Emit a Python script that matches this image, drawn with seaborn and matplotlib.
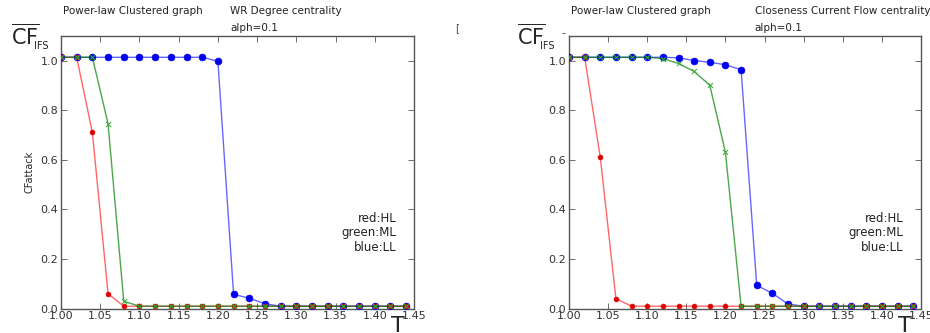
import pandas as pd
import matplotlib.pyplot as plt
import seaborn as sns

sns.set_style("ticks")
plt.rcParams['font.family'] = ['DejaVu Sans']
plt.rcParams['xtick.direction'] = 'in'
plt.rcParams['ytick.direction'] = 'in'
plt.rcParams['xtick.top'] = True
plt.rcParams['ytick.right'] = True

# Data
T = [1.00, 1.02, 1.04, 1.06, 1.08, 1.10, 1.12, 1.14, 1.16, 1.18, 1.20, 1.22,
     1.24, 1.26, 1.28, 1.30, 1.32, 1.34, 1.36, 1.38, 1.40, 1.42, 1.44]

left_red = [1.013, 1.013, 0.71, 0.06, 0.01, 0.01, 0.01, 0.01, 0.01, 0.01, 0.01, 0.01,
            0.01, 0.01, 0.01, 0.01, 0.01, 0.01, 0.01, 0.01, 0.01, 0.01, 0.01]
left_green = [1.013, 1.013, 1.013, 0.745, 0.03, 0.01, 0.01, 0.01, 0.01, 0.01, 0.01, 0.01,
              0.01, 0.01, 0.01, 0.01, 0.01, 0.01, 0.01, 0.01, 0.01, 0.01, 0.01]
left_blue = [1.013, 1.013, 1.013, 1.013, 1.013, 1.013, 1.013, 1.013, 1.013, 1.013, 0.997, 0.058,
             0.042, 0.02, 0.01, 0.01, 0.01, 0.01, 0.01, 0.01, 0.01, 0.01, 0.01]

right_red = [1.013, 1.013, 0.61, 0.04, 0.01, 0.01, 0.01, 0.01, 0.01, 0.01, 0.01, 0.01,
             0.01, 0.01, 0.01, 0.01, 0.01, 0.01, 0.01, 0.01, 0.01, 0.01, 0.01]
right_green = [1.013, 1.013, 1.013, 1.013, 1.013, 1.013, 1.008, 0.988, 0.956, 0.90, 0.63, 0.01,
               0.01, 0.01, 0.01, 0.01, 0.01, 0.01, 0.01, 0.01, 0.01, 0.01, 0.01]
right_blue = [1.013, 1.013, 1.013, 1.013, 1.013, 1.013, 1.013, 1.011, 1.0, 0.993, 0.983, 0.963,
              0.094, 0.062, 0.019, 0.01, 0.01, 0.01, 0.01, 0.01, 0.01, 0.01, 0.01]

x_ticks = [1.00, 1.05, 1.10, 1.15, 1.20, 1.25, 1.30, 1.35, 1.40, 1.45]
y_ticks = [0.0, 0.2, 0.4, 0.6, 0.8, 1.0]

panels = [
    ("WR Degree centrality", 0.48, left_red, left_green, left_blue),
    ("Closeness Current Flow centrality", 0.528, right_red, right_green, right_blue),
]

fig = plt.figure(figsize=(9.3, 3.33), dpi=100)
ax_left = fig.add_axes([61 / 930, 1 - 308.7 / 333, 353 / 930, 273 / 333])
ax_right = fig.add_axes([569 / 930, 1 - 308.7 / 333, 352 / 930, 273 / 333])

for ax, (cent, cx, red, green, blue) in zip([ax_left, ax_right], panels):
    # blue first, then red, green on top
    sns.lineplot(x=T, y=blue, ax=ax, color='#0000ff', alpha=0.6, linewidth=1.0)
    sns.scatterplot(x=T, y=blue, ax=ax, color='#0000ee', s=24, edgecolor='#0000ee', linewidth=0.5, zorder=3)
    sns.lineplot(x=T, y=red, ax=ax, color='#ff0000', alpha=0.6, linewidth=1.0)
    sns.scatterplot(x=T, y=red, ax=ax, color='#dd0000', s=12, edgecolor='#dd0000', linewidth=0.5, zorder=3)
    sns.lineplot(x=T, y=green, ax=ax, color='#008000', alpha=0.7, linewidth=1.0, zorder=4)
    sns.scatterplot(x=T, y=green, ax=ax, color='#33aa33', marker='x', s=14, linewidth=0.7, zorder=4)

    ax.set_xlim(1.0, 1.45)
    ax.set_ylim(0, 1.1)
    ax.set_xticks(x_ticks)
    ax.set_yticks(y_ticks)
    ax.set_xticklabels([f"{v:.2f}" for v in x_ticks])
    ax.set_yticklabels([f"{v:.1f}" for v in y_ticks])
    ax.tick_params(labelsize=8, labelcolor='#333333', length=4, width=0.6, color='#555555', pad=2)
    for sp in ax.spines.values():
        sp.set_color('#555555')
        sp.set_linewidth(1.0)

    ax.text(0.005, 1.09, "Power-law Clustered graph", transform=ax.transAxes,
            fontsize=7.5, va='center', ha='left', color='#222222')
    ax.text(cx, 1.09, cent, transform=ax.transAxes,
            fontsize=7.5, va='center', ha='left', color='#222222')
    ax.text(cx, 1.028, "alph=0.1", transform=ax.transAxes,
            fontsize=7.5, va='center', ha='left', color='#222222')
    ax.text(0.95, 0.355, "red:HL\ngreen:ML\nblue:LL", transform=ax.transAxes,
            fontsize=8.5, va='top', ha='right', linespacing=1.15, color='#222222')
    ax.set_xlabel("")
    ax.set_ylabel("")

ax_left.set_ylabel("CFattack", fontsize=7, labelpad=4)

# big labels
for x0 in [11, 517]:
    fig.text(x0 / 930, 1 - 36 / 333, r'$\overline{\mathrm{CF}}$', fontsize=15, va='center', ha='left')
    fig.text((x0 + 23) / 930, 1 - 46 / 333, "IFS", fontsize=7, va='center', ha='left')
fig.text(563 / 930, 1 - 33 / 333, "-", fontsize=8, va='center', ha='center', color='#333333')
fig.text(457 / 930, 1 - 28 / 333, "[", fontsize=7, va='center', ha='center', color='#444444')
fig.text(398 / 930, 1 - 326 / 333, "T", fontsize=16, va='center', ha='center')
fig.text(905 / 930, 1 - 326 / 333, "T", fontsize=16, va='center', ha='center')

plt.savefig('out.png', dpi=100)
